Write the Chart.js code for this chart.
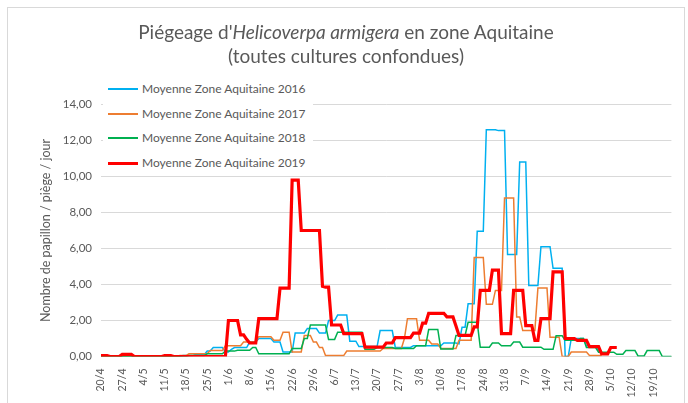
<!DOCTYPE html>
<html>
<head>
<meta charset="utf-8">
<script src="https://cdn.jsdelivr.net/npm/chart.js@4.4.0/dist/chart.umd.min.js"></script>
<style>
  body { margin: 0; background: #fff; }
  #wrap { position: relative; width: 688px; height: 403px; overflow: hidden; font-family: Lato, "Open Sans", sans-serif; }
  #frame { position: absolute; left: 7px; top: 7px; width: 678px; height: 420px; border: 1px solid #d9d9d9; box-sizing: border-box; }
  #titre { position: absolute; left: 7px; top: 20px; width: 678px; text-align: center; color: #595959; font-size: 19px; line-height: 24px; }
  #legende { position: absolute; left: 103px; top: 78px; width: 210px; height: 94px; background: #fff; }
  .item { position: absolute; left: 5px; height: 14px; font-size: 12px; color: #595959; white-space: nowrap; }
  .item span.trait { position: absolute; left: 0; width: 30px; }
  .item span.txt { position: absolute; left: 34px; top: 0; line-height: 14px; }
  canvas { position: absolute; left: 0; top: 0; }
</style>
</head>
<body>
<div id="wrap">
  <div id="frame"></div>
  <canvas id="graphique" width="688" height="403"></canvas>
  <div id="titre">Piégeage d'<i>Helicoverpa armigera</i> en zone Aquitaine<br>(toutes cultures confondues)</div>
  <div id="legende"></div>
</div>
<script>
// Séries journalières du 20/4 au 25/10 (une ligne = une semaine)
const series = ['Moyenne Zone Aquitaine 2016', 'Moyenne Zone Aquitaine 2017', 'Moyenne Zone Aquitaine 2018', 'Moyenne Zone Aquitaine 2019'];
const couleurs = ['#00b0f0', '#ed7d31', '#00b050', '#ff0000'];

const moy2016 = [
  0, 0, 0, 0, 0, 0, 0,
  0, 0, 0, 0, 0, 0, 0,
  0, 0, 0, 0, 0, 0, 0,
  0, 0, 0, 0, 0, 0, 0.05,
  0.05, 0.05, 0.05, 0.1, 0.1, 0.1, 0.1,
  0.3, 0.3, 0.5, 0.5, 0.5, 0.5, 0.25,
  0.25, 0.4, 0.5, 0.5, 0.5, 0.5, 0.5,
  0.8, 0.8, 0.8, 1.0, 1.0, 1.0, 1.0,
  1.0, 0.8, 0.8, 0.8, 0.25, 0.25, 0.25,
  0.25, 1.3, 1.3, 1.3, 1.3, 1.55, 1.55,
  1.55, 1.55, 1.3, 1.3, 1.3, 2.0, 2.0,
  2.0, 2.3, 2.3, 2.3, 2.3, 0.85, 0.85,
  0.85, 0.55, 0.55, 0.55, 0.55, 0.55, 0.55,
  0.55, 1.44, 1.44, 1.44, 1.44, 1.44, 0.5,
  0.5, 0.5, 0.5, 0.5, 0.5, 0.6, 0.6,
  0.6, 0.6, 0.6, 0.6, 0.6, 0.6, 0.6,
  0.6, 0.75, 0.75, 0.75, 0.75, 0.75, 0.7,
  1.63, 1.63, 2.93, 2.93, 2.93, 6.96, 6.96,
  6.96, 12.6, 12.6, 12.6, 12.6, 12.55, 12.55,
  12.55, 5.67, 5.67, 5.67, 5.67, 10.8, 10.8,
  10.8, 3.94, 3.94, 3.94, 3.94, 6.1, 6.1,
  6.1, 6.1, 4.9, 4.9, 4.9, 4.9, 0,
  0, 1.0, 1.0, 1.0, 1.0, 1.0, 0.6,
  0.6, 0.6, 0.6, 0.3, 0.3, null, null,
  null, null, null, null, null, null, null,
  null, null, null, null, null, null, null,
  null, null, null, null, null, null, null
];

const moy2017 = [
  0, 0, 0, 0, 0, 0, 0,
  0, 0, 0, 0, 0, 0, 0,
  0, 0, 0, 0, 0, 0, 0,
  0, 0, 0, 0, 0, 0.05, 0.05,
  0.05, 0.15, 0.15, 0.15, 0.15, 0.15, 0.15,
  0.15, 0.33, 0.33, 0.33, 0.33, 0.33, 0.6,
  0.6, 0.6, 0.6, 0.6, 0.6, 0.8, 0.8,
  0.8, 0.8, 0.8, 1.1, 1.1, 1.1, 1.1,
  1.1, 0.9, 0.9, 0.9, 1.35, 1.35, 1.35,
  0.25, 0.25, 0.25, 0.25, 1.17, 1.17, 1.17,
  0.8, 0.8, 0.5, 0.5, 0.05, 0.05, 0.05,
  0.05, 0.05, 0.05, 0.05, 0.3, 0.3, 0.3,
  0.3, 0.3, 0.3, 0.3, 0.3, 0.3, 0.3,
  0.3, 0.3, 0.45, 0.45, 0.45, 0.45, 0.45,
  0.45, 0.45, 1.0, 2.1, 2.1, 2.1, 2.1,
  0.9, 0.9, 0.9, 0.9, 0.7, 0.7, 0.7,
  0.44, 0.44, 0.44, 0.44, 0.44, 0.44, 0.9,
  0.9, 0.9, 0.9, 0.9, 5.5, 5.5, 5.5,
  5.5, 2.9, 2.9, 2.9, 3.67, 3.67, 3.67,
  8.8, 8.8, 8.8, 8.8, 2.2, 2.2, 1.44,
  1.44, 1.44, 1.44, 1.44, 3.8, 3.8, 3.8,
  3.8, 1.07, 1.07, 1.07, 1.07, 0, 0,
  0, 0.25, 0.25, 0.25, 0.25, 0.25, 0.25,
  0.05, 0.05, 0.05, 0.05, 0.05, null, null,
  null, null, null, null, null, null, null,
  null, null, null, null, null, null, null,
  null, null, null, null, null, null, null
];

const moy2018 = [
  0, 0, 0, 0, 0, 0, 0,
  0, 0, 0, 0, 0, 0, 0,
  0, 0, 0, 0, 0, 0, 0,
  0, 0, 0, 0, 0, 0, 0,
  0, 0.05, 0.05, 0.05, 0.05, 0.05, 0.05,
  0.15, 0.15, 0.15, 0.15, 0.15, 0.15, 0.3,
  0.3, 0.3, 0.3, 0.35, 0.35, 0.35, 0.35,
  0.35, 0.5, 0.5, 0.15, 0.15, 0.15, 0.15,
  0.15, 0.15, 0.15, 0.15, 0.15, 0.15, 0.15,
  0.45, 0.45, 0.45, 0.45, 1.0, 1.0, 1.75,
  1.75, 1.75, 1.75, 1.75, 1.75, 0.95, 0.95,
  0.95, 1.35, 1.35, 1.35, 1.35, 1.35, 1.35,
  1.35, 1.35, 1.35, 0.4, 0.4, 0.4, 0.4,
  0.5, 0.5, 0.5, 0.5, 0.5, 0.5, 0.44,
  0.44, 0.44, 0.44, 0.44, 0.44, 0.44, 0.6,
  0.6, 0.6, 0.6, 1.5, 1.5, 1.5, 1.5,
  0.42, 0.42, 0.42, 0.42, 0.42, 1.17, 1.17,
  1.17, 1.17, 1.9, 1.9, 1.9, 1.9, 0.52,
  0.52, 0.52, 0.52, 0.75, 0.75, 0.75, 0.6,
  0.6, 0.6, 0.6, 0.8, 0.8, 0.8, 0.52,
  0.52, 0.52, 0.52, 0.52, 0.52, 0.52, 0.4,
  0.4, 0.4, 0.4, 1.15, 1.15, 1.15, 0.9,
  0.9, 0.9, 0.9, 0.9, 1.0, 1.0, 0.5,
  0.5, 0.5, 0.5, 0.24, 0.24, 0.24, 0.24,
  0.24, 0.24, 0.12, 0.12, 0.12, 0.33, 0.33,
  0.33, 0.33, 0.03, 0.03, 0.03, 0.33, 0.33,
  0.33, 0.33, 0.33, 0, 0, 0, 0
];

const moy2019 = [
  0.05, 0.05, 0.05, 0, 0, 0, 0,
  0.12, 0.12, 0.12, 0.12, 0, 0, 0,
  0, 0, 0, 0, 0, 0, 0,
  0.05, 0.05, 0.05, 0, 0, 0, 0,
  0, 0, 0, 0, 0, 0, 0,
  0, 0, 0, 0, 0, 0, 0,
  2.0, 2.0, 2.0, 2.0, 1.2, 1.2, 0.95,
  0.75, 0.75, 0.75, 2.1, 2.1, 2.1, 2.1,
  2.1, 2.1, 2.1, 3.8, 3.8, 3.8, 3.8,
  9.8, 9.8, 9.8, 7.0, 7.0, 7.0, 7.0,
  7.0, 7.0, 7.0, 3.9, 3.85, 3.85, 1.75,
  1.75, 1.75, 1.75, 1.27, 1.27, 1.27, 1.27,
  1.27, 1.27, 1.27, 0.52, 0.52, 0.52, 0.52,
  0.52, 0.52, 0.52, 0.75, 0.75, 0.75, 1.05,
  1.05, 1.05, 1.05, 1.05, 1.05, 1.3, 1.3,
  1.3, 1.85, 1.85, 2.4, 2.4, 2.4, 2.4,
  2.4, 2.4, 2.2, 2.2, 2.2, 1.7, 1.17,
  1.17, 1.17, 1.17, 1.17, 1.65, 1.65, 3.67,
  3.67, 3.67, 3.67, 4.8, 4.8, 4.8, 1.27,
  1.27, 1.27, 1.27, 3.67, 3.67, 3.67, 3.67,
  1.72, 1.72, 1.72, 0.9, 0.9, 2.1, 2.1,
  2.1, 2.1, 4.7, 4.7, 4.7, 4.7, 1.0,
  1.0, 1.0, 1.0, 0.9, 0.9, 0.9, 0.9,
  0.55, 0.55, 0.55, 0.55, 0.15, 0.15, 0.15,
  0.5, 0.5, 0.5, null, null, null, null,
  null, null, null, null, null, null, null,
  null, null, null, null, null, null, null
];

const valeurs = [moy2016, moy2017, moy2018, moy2019];

// Libellés jour/mois à partir du 20 avril
const jours = [];
const debut = new Date(Date.UTC(2019, 3, 20));
for (let i = 0; i < moy2016.length; i++) {
  const d = new Date(debut.getTime() + i * 86400000);
  jours.push(d.getUTCDate() + '/' + (d.getUTCMonth() + 1));
}

const gris = '#595959';
const police = 'Lato, "Open Sans", sans-serif';

const datasets = series.map((nom, i) => ({
  label: nom,
  data: valeurs[i],
  borderColor: couleurs[i],
  backgroundColor: couleurs[i],
  borderWidth: i === 3 ? 3.2 : 1.5,
  pointRadius: 0,
  tension: 0,
  fill: false,
  spanGaps: false,
  order: 4 - i
}));

const ctx = document.getElementById('graphique').getContext('2d');
new Chart(ctx, {
  type: 'line',
  data: { labels: jours, datasets: datasets },
  options: {
    responsive: false,
    animation: false,
    devicePixelRatio: 1,
    layout: { padding: { left: 34, right: 6.5, top: 104.5, bottom: 0 } },
    plugins: {
      legend: { display: false },
      title: { display: false },
      tooltip: { enabled: false }
    },
    scales: {
      x: {
        grid: { display: false },
        border: { display: true, color: '#d9d9d9' },
        afterFit: s => { s.height = 46.5; },
        ticks: {
          autoSkip: false,
          maxRotation: 90,
          minRotation: 90,
          padding: 4,
          color: gris,
          font: { family: police, size: 10.5 },
          callback: (v, i) => (i % 7 === 0 ? jours[i] : '')
        }
      },
      y: {
        min: 0,
        max: 14,
        afterFit: s => { s.width = 101 - 34; },
        grid: { color: '#d9d9d9', drawTicks: false },
        border: { display: false },
        ticks: {
          stepSize: 2,
          padding: 9,
          color: gris,
          font: { family: police, size: 11.5 },
          callback: v => v.toFixed(2).replace('.', ',')
        },
        title: {
          display: true,
          text: 'Nombre de papillon / piège / jour',
          color: gris,
          font: { family: police, size: 12.5 }
        }
      }
    }
  }
});

// Légende dans la zone du graphique
const leg = document.getElementById('legende');
series.forEach((nom, i) => {
  const el = document.createElement('div');
  el.className = 'item';
  el.style.top = (4 + i * 24.7) + 'px';
  const ep = i === 3 ? 3 : 2;
  el.innerHTML = '<span class="trait" style="top:' + (7 - ep / 2) + 'px;height:' + ep + 'px;background:' + couleurs[i] + '"></span>' +
    '<span class="txt">' + nom + '</span>';
  leg.appendChild(el);
});
</script>
</body>
</html>
